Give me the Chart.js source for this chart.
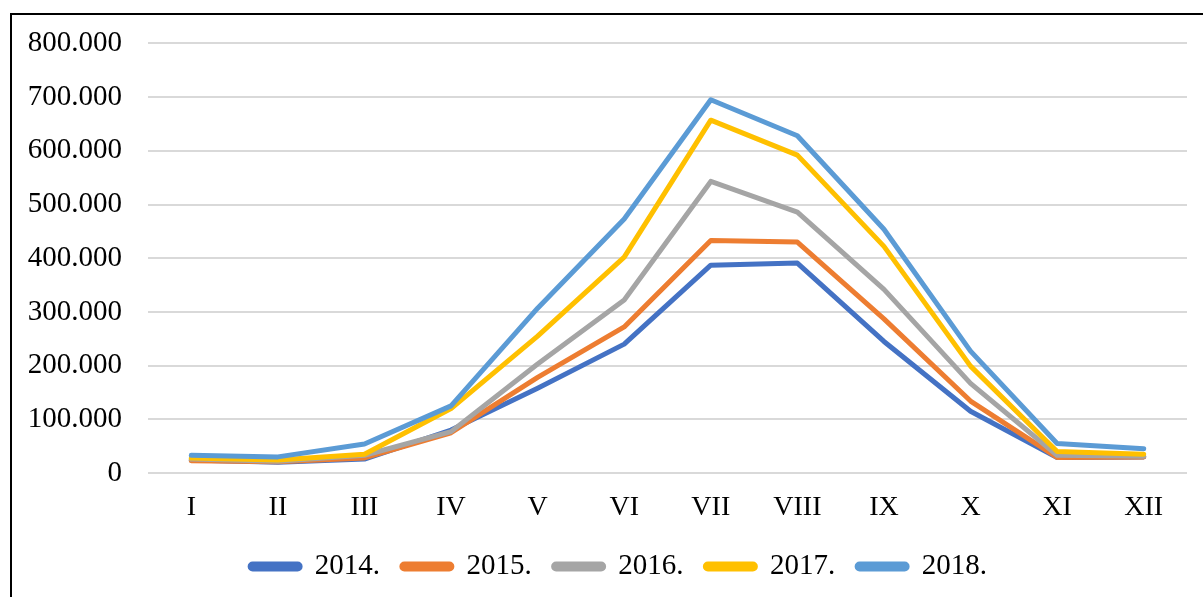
<!DOCTYPE html>
<html>
<head>
<meta charset="utf-8">
<script src="https://cdn.jsdelivr.net/npm/chart.js@4/dist/chart.umd.min.js"></script>
<style>
  html, body { margin: 0; padding: 0; background: #fff; overflow: hidden; }
  #frame { position: absolute; left: 10px; top: 13px; width: 1300px; height: 700px; border: 2px solid #000; box-sizing: border-box; }
  #wrap { position: absolute; left: 0; top: 0; width: 1203px; height: 597px; }
</style>
</head>
<body>
<div id="frame"></div>
<div id="wrap"><canvas id="chart"></canvas></div>
<script>
const months = ["I", "II", "III", "IV", "V", "VI", "VII", "VIII", "IX", "X", "XI", "XII"];
const years = ["2014.", "2015.", "2016.", "2017.", "2018."];
const colors = ["#4472C4", "#ED7D31", "#A5A5A5", "#FFC000", "#5B9BD5"];

const v2014 = [24000, 20000, 26000, 80000, 158000, 240000, 387000, 391000, 245000, 115000, 29000, 30000];
const v2015 = [23000, 21000, 28000, 75000, 178000, 272000, 433000, 430000, 287000, 134000, 29000, 30000];
const v2016 = [26000, 22000, 33000, 77000, 203000, 322000, 543000, 486000, 342000, 167000, 33000, 31000];
const v2017 = [28000, 24000, 35000, 120000, 255000, 402000, 657000, 592000, 422000, 199000, 40000, 35000];
const v2018 = [33000, 30000, 54000, 125000, 307000, 473000, 695000, 628000, 454000, 227000, 55000, 45000];
const series = [v2014, v2015, v2016, v2017, v2018];

const font = { family: "'Liberation Serif', 'Times New Roman', serif", size: 29 };

// legend sits a bit right of centre in the original
const shiftLegend = {
  id: "shiftLegend",
  afterLayout(chart) {
    chart.legend.left += 25;
    chart.legend.right += 25;
  },
};

new Chart(document.getElementById("chart"), {
  type: "line",
  data: {
    labels: months,
    datasets: series.map((d, i) => ({
      label: years[i],
      data: d,
      borderColor: colors[i],
      backgroundColor: colors[i],
      borderWidth: 5,
      pointRadius: 0,
      tension: 0,
      borderCapStyle: "round",
      borderJoinStyle: "round",
      order: 5 - i,
    })),
  },
  options: {
    responsive: true,
    maintainAspectRatio: false,
    animation: false,
    layout: { padding: { top: 42, right: 16, bottom: 6, left: 0 } },
    plugins: {
      tooltip: { enabled: false },
      legend: {
        position: "bottom",
        labels: {
          font,
          color: "#000",
          boxWidth: 50,
          boxHeight: 5,
          padding: 22,
          useBorderRadius: true,
          borderRadius: 2.5,
          sort: (a, b) => a.datasetIndex - b.datasetIndex,
        },
      },
    },
    scales: {
      x: {
        offset: true,
        grid: { display: false, drawTicks: false },
        border: { display: false },
        ticks: { font: { family: font.family, size: 28 }, color: "#000", padding: 18, maxRotation: 0 },
        afterFit: (s) => { s.height = 57; },
      },
      y: {
        min: 0,
        max: 800000,
        grid: { color: "#d9d9d9", lineWidth: 2, drawTicks: false },
        border: { display: false },
        ticks: {
          stepSize: 100000,
          font,
          color: "#000",
          padding: 26,
          callback: (v) => v === 0 ? "0" : (v / 1000).toFixed(0) + ".000",
        },
        afterFit: (s) => { s.width = 148; },
      },
    },
  },
  plugins: [shiftLegend],
});
</script>
</body>
</html>
